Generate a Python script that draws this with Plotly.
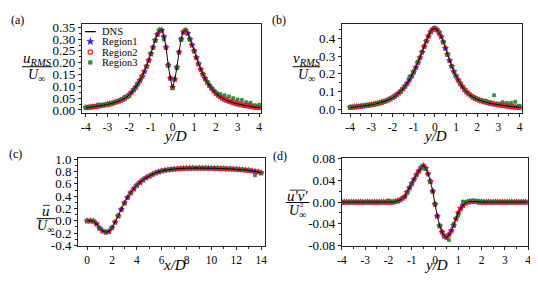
import plotly.graph_objects as go

# ---------------- data ----------------
# panel (a): u_RMS / U_inf vs y/D
ya = [round(-4.0 + 0.1 * i, 1) for i in range(81)]
urms_dns = [0.010, 0.011, 0.012, 0.013, 0.014, 0.016, 0.017, 0.019, 0.020, 0.022,
            0.024, 0.026, 0.028, 0.031, 0.034, 0.037, 0.041, 0.045, 0.050, 0.056,
            0.064, 0.074, 0.085, 0.097, 0.111, 0.126, 0.143, 0.163, 0.185, 0.210,
            0.238, 0.265, 0.295, 0.320, 0.337, 0.338, 0.310, 0.265, 0.190, 0.135,
            0.095, 0.130, 0.180, 0.245, 0.300, 0.330, 0.337, 0.325, 0.300, 0.275,
            0.250, 0.222, 0.195, 0.172, 0.152, 0.134, 0.118, 0.104, 0.092, 0.081,
            0.071, 0.063, 0.056, 0.050, 0.045, 0.041, 0.037, 0.034, 0.031, 0.028,
            0.026, 0.024, 0.022, 0.020, 0.018, 0.017, 0.015, 0.014, 0.012, 0.011, 0.010]
urms_r1 = urms_dns
urms_r2 = urms_dns
ya3 = [round(-4.0 + 0.2 * i, 1) for i in range(41)]
urms_r3 = [0.011, 0.013, 0.015, 0.022, 0.021, 0.025, 0.029, 0.034, 0.044, 0.056,
           0.058, 0.086, 0.112, 0.143, 0.186, 0.238, 0.295, 0.340, 0.298, 0.190,
           0.092, 0.180, 0.298, 0.338, 0.298, 0.250, 0.195, 0.152, 0.118, 0.093,
           0.074, 0.068, 0.062, 0.057, 0.050, 0.044, 0.042, 0.033, 0.031, 0.020, 0.022]

# panel (b): v_RMS / U_inf vs y/D
vrms_dns = [0.011, 0.012, 0.013, 0.014, 0.016, 0.017, 0.019, 0.020, 0.022, 0.024,
            0.026, 0.028, 0.030, 0.033, 0.036, 0.040, 0.044, 0.048, 0.053, 0.059,
            0.066, 0.073, 0.082, 0.092, 0.103, 0.116, 0.131, 0.148, 0.167, 0.188,
            0.211, 0.236, 0.263, 0.292, 0.323, 0.355, 0.385, 0.413, 0.437, 0.452,
            0.457, 0.450, 0.432, 0.410, 0.380, 0.345, 0.310, 0.275, 0.243, 0.213,
            0.188, 0.166, 0.146, 0.128, 0.112, 0.098, 0.087, 0.077, 0.069, 0.062,
            0.057, 0.052, 0.048, 0.044, 0.041, 0.038, 0.035, 0.032, 0.030, 0.028,
            0.026, 0.024, 0.022, 0.020, 0.019, 0.017, 0.016, 0.014, 0.013, 0.012, 0.011]
vrms_r1 = vrms_dns
vrms_r2 = vrms_dns
vrms_r3 = [0.011, 0.013, 0.016, 0.019, 0.022, 0.026, 0.030, 0.036, 0.044, 0.053,
           0.066, 0.082, 0.103, 0.131, 0.182, 0.215, 0.270, 0.323, 0.385, 0.437,
           0.460, 0.437, 0.380, 0.310, 0.243, 0.188, 0.146, 0.112, 0.087, 0.069,
           0.060, 0.050, 0.048, 0.040, 0.079, 0.030, 0.040, 0.036, 0.037, 0.042, 0.020]

# panel (c): mean u / U_inf vs x/D
xc = [round(0.25 * i, 2) for i in range(57)]
umean_dns = [0.000, 0.000, -0.005, -0.050, -0.120, -0.165, -0.183, -0.170, -0.110, -0.020,
             0.080, 0.185, 0.290, 0.380, 0.455, 0.520, 0.578, 0.625, 0.665, 0.700,
             0.728, 0.755, 0.778, 0.797, 0.812, 0.822, 0.830, 0.837, 0.842, 0.846,
             0.850, 0.853, 0.855, 0.856, 0.857, 0.857, 0.857, 0.857, 0.856, 0.856,
             0.855, 0.854, 0.852, 0.850, 0.848, 0.846, 0.844, 0.841, 0.838, 0.834,
             0.830, 0.825, 0.820, 0.813, 0.805, 0.795, 0.780]
umean_r1 = umean_dns
umean_r2 = umean_dns
xc3 = [round(0.5 * i, 1) for i in range(29)]
umean_r3 = [0.000, 0.000, -0.120, -0.185, -0.110, 0.080, 0.290, 0.455, 0.578, 0.665,
            0.728, 0.778, 0.812, 0.832, 0.845, 0.853, 0.858, 0.860, 0.860, 0.860,
            0.860, 0.858, 0.856, 0.852, 0.845, 0.836, 0.830, 0.740, 0.780]

# panel (d): u'v' / U_inf^2 vs y/D
yd = [round(-4.0 + 0.1 * i, 1) for i in range(80)]
uv_dns = [0.0] * 22 + [
    0.000, 0.001, 0.002, 0.004, 0.007, 0.010, 0.018, 0.026, 0.034, 0.042,
    0.050, 0.057, 0.063, 0.067, 0.062, 0.052, 0.038, 0.020, -0.004, -0.026,
    -0.044, -0.055, -0.063, -0.065, -0.060, -0.053, -0.043, -0.031, -0.020, -0.012,
    -0.006, -0.002, 0.000, 0.001, 0.001, 0.001, 0.001] + [0.0] * 21
uv_r1 = uv_dns
uv_r2 = uv_dns
yd3 = [round(-4.0 + 0.2 * i, 1) for i in range(40)]
uv_r3 = [0.0, 0.0, 0.0, 0.0, 0.0, 0.0, 0.0, 0.0, 0.0, 0.0,
         0.003, 0.001, 0.002, 0.007, 0.018, 0.034, 0.050, 0.063, 0.061, 0.038,
         -0.004, -0.044, -0.063, -0.070, -0.040, -0.025, 0.001, 0.001, 0.003, 0.002,
         0.001, 0.0, 0.0, 0.0, 0.0, 0.0, 0.0, 0.0, 0.0, 0.0]

# tick values / labels (hyphen minus as in the original)
a_yticks = [0.00, 0.05, 0.10, 0.15, 0.20, 0.25, 0.30, 0.35]
a_ylabels = ["0.00", "0.05", "0.10", "0.15", "0.20", "0.25", "0.30", "0.35"]
b_yticks = [0.0, 0.1, 0.2, 0.3, 0.4]
b_ylabels = ["0.0", "0.1", "0.2", "0.3", "0.4"]
yd_ticks = [-4, -3, -2, -1, 0, 1, 2, 3, 4]
yd_labels = ["-4", "-3", "-2", "-1", "0", "1", "2", "3", "4"]
c_xticks = [0, 2, 4, 6, 8, 10, 12, 14]
c_xlabels = ["0", "2", "4", "6", "8", "10", "12", "14"]
c_yticks = [-0.4, -0.2, 0.0, 0.2, 0.4, 0.6, 0.8, 1.0]
c_ylabels = ["-0.4", "-0.2", "0.0", "0.2", "0.4", "0.6", "0.8", "1.0"]
d_yticks = [-0.08, -0.04, 0.00, 0.04, 0.08]
d_ylabels = ["-0.08", "-0.04", "0.00", "0.04", "0.08"]

series_names = ["DNS", "Region1", "Region2", "Region3"]

# ---------------- style ----------------
# page body keeps its default 8px margin; figure spans from there to the window edge
OFF = 8
W, H = 538 - OFF, 285 - OFF
FONT = "Liberation Serif, Times New Roman, serif"
BLUE = "#1f1fff"
RED = "#ff1a1a"
GREEN = "#2f9a2f"


def px(x):
    return min(1.0, max(0.0, (x - OFF) / W))


def py(y):
    return min(1.0, max(0.0, 1 - (y - OFF) / H))


fig = go.Figure()


def add_panel(idx, x, dns, r1, r2, x3, r3):
    xa = "x" if idx == 1 else f"x{idx}"
    ya_ = "y" if idx == 1 else f"y{idx}"
    fig.add_trace(go.Scatter(x=x, y=r1, mode="markers", xaxis=xa, yaxis=ya_, showlegend=False,
                             marker=dict(symbol="star", size=5.5, color=BLUE, line=dict(width=0))))
    fig.add_trace(go.Scatter(x=x, y=r2, mode="markers", xaxis=xa, yaxis=ya_, showlegend=False,
                             marker=dict(symbol="circle-open", size=4, color=RED, line=dict(width=1.2, color=RED))))
    fig.add_trace(go.Scatter(x=x3, y=r3, mode="markers", xaxis=xa, yaxis=ya_, showlegend=False,
                             marker=dict(symbol="square", size=3, color=GREEN, line=dict(width=0.6, color="#1d6b1d"))))
    fig.add_trace(go.Scatter(x=x, y=dns, mode="lines", xaxis=xa, yaxis=ya_, showlegend=False,
                             line=dict(color="black", width=1.0, shape="spline", smoothing=0.6)))


add_panel(1, ya, urms_dns, urms_r1, urms_r2, ya3, urms_r3)
add_panel(2, ya, vrms_dns, vrms_r1, vrms_r2, ya3, vrms_r3)
add_panel(3, xc, umean_dns, umean_r1, umean_r2, xc3, umean_r3)
add_panel(4, yd, uv_dns, uv_r1, uv_r2, yd3, uv_r3)

# legend glyphs on a pixel overlay axis (window pixel coordinates)
fig.add_trace(go.Scatter(x=[81, 92], y=[25.5, 25.5], mode="lines", xaxis="x5", yaxis="y5",
                         showlegend=False, line=dict(color="black", width=1.3)))
fig.add_trace(go.Scatter(x=[86.5], y=[36], mode="markers", xaxis="x5", yaxis="y5", showlegend=False,
                         marker=dict(symbol="star", size=6.5, color=BLUE)))
fig.add_trace(go.Scatter(x=[86.5], y=[47], mode="markers", xaxis="x5", yaxis="y5", showlegend=False,
                         marker=dict(symbol="circle-open", size=4.5, color=RED, line=dict(width=1.3, color=RED))))
fig.add_trace(go.Scatter(x=[86.5], y=[58], mode="markers", xaxis="x5", yaxis="y5", showlegend=False,
                         marker=dict(symbol="square", size=3.5, color=GREEN, line=dict(width=0.6, color="#1d6b1d"))))


def axis(domain, rng, tickvals, ticktext, minor_dtick, size, anchor):
    return dict(domain=domain, range=rng, anchor=anchor, showline=True, linecolor="#222", linewidth=1,
                mirror=True, ticks="outside", ticklen=3, tickwidth=1, tickcolor="#222",
                tickmode="array", tickvals=tickvals, ticktext=ticktext,
                tickfont=dict(family=FONT, size=size, color="black"),
                minor=dict(ticks="outside", ticklen=2, tickcolor="#222", dtick=minor_dtick, tick0=0),
                showgrid=False, zeroline=False, fixedrange=True)


layout = dict(
    width=W, height=H, margin=dict(l=0, r=0, t=0, b=0),
    paper_bgcolor="white", plot_bgcolor="rgba(0,0,0,0)", showlegend=False,
    font=dict(family=FONT, color="black"),
    xaxis=axis([px(78), px(260)], [-4.182, 4.091], yd_ticks, yd_labels, 0.5, 11.5, "y"),
    yaxis=axis([py(111), py(17)], [-0.012, 0.366], a_yticks, a_ylabels, 0.025, 13, "x"),
    xaxis2=axis([px(342), px(525)], [-4.386, 4.126], yd_ticks, yd_labels, 0.5, 11.5, "y2"),
    yaxis2=axis([py(111), py(18)], [-0.0198, 0.4788], b_yticks, b_ylabels, 0.05, 13, "x2"),
    xaxis3=axis([px(74), px(264)], [-0.737, 14.32], c_xticks, c_xlabels, 1, 11.5, "y3"),
    yaxis3=axis([py(251.5), py(158.5)], [-0.412, 1.023], c_yticks, c_ylabels, 0.1, 13, "x3"),
    xaxis4=axis([px(342), px(531)], [-4.0, 4.0], yd_ticks, yd_labels, 0.5, 11.5, "y4"),
    yaxis4=axis([py(251.5), py(159)], [-0.0814, 0.0805], d_yticks, d_ylabels, 0.02, 13, "x4"),
    xaxis5=dict(domain=[0, 1], range=[OFF, OFF + W], visible=False, fixedrange=True, anchor="y5"),
    yaxis5=dict(domain=[0, 1], range=[OFF + H, OFF], visible=False, fixedrange=True, anchor="x5"),
)
fig.update_layout(**layout)

ann = []


def text(x, y, s, size, xanchor="center"):
    ann.append(dict(x=px(x), y=py(y), xref="paper", yref="paper", text=s, showarrow=False,
                    xanchor=xanchor, yanchor="middle", font=dict(family=FONT, size=size, color="black")))


# panel labels
text(13, 13, "(a)", 12)
text(278, 13, "(b)", 12)
text(11, 154, "(c)", 12)
text(279, 156, "(d)", 12)

# legend texts
for name, yy in zip(series_names, [25.5, 36, 47, 58]):
    text(96, yy, name, 10.5, xanchor="left")

# x axis titles
text(172, 135.5, "<i>y/D</i>", 15)
text(436, 135.5, "<i>y/D</i>", 15)
text(172, 271.5, "<i>x/D</i>", 15)
text(437, 271.5, "<i>y/D</i>", 15)

# y axis titles (fractions)
text(33, 54, "<i>u</i><sub><i>RMS</i></sub>", 15)
text(32, 72, "<i>U</i><sub>∞</sub>", 14)
text(306, 54, "<i>v</i><sub><i>RMS</i></sub>", 15)
text(306, 72, "<i>U</i><sub>∞</sub>", 14)
text(42, 214, "<i>u</i>", 15)
text(41, 231, "<i>U</i><sub>∞</sub>", 14)
text(297, 199, "<i>u'v'</i>", 15)
text(297, 215, "<i>U</i><sub>∞</sub>", 14)
text(301, 208, "2", 7)

fig.update_layout(annotations=ann)

shapes = []


def hline(x0, x1, y, w=1):
    shapes.append(dict(type="line", xref="paper", yref="paper", x0=px(x0), x1=px(x1),
                       y0=py(y), y1=py(y), line=dict(color="black", width=w)))


hline(17, 48, 62.5)
hline(292, 320, 62.5)
hline(32, 51, 222.5)
hline(38.5, 45.5, 208.5, 0.8)
hline(285, 309, 205.5)
hline(289, 305, 192.5, 0.8)
fig.update_layout(shapes=shapes)

fig.write_html("out.html")
